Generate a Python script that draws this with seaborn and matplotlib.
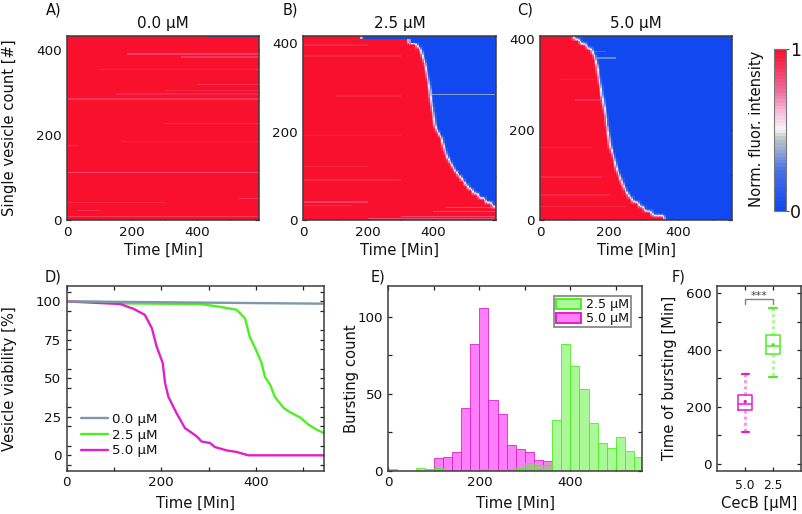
import numpy as np
import pandas as pd
import matplotlib
matplotlib.use("Agg")
import matplotlib.pyplot as plt
from matplotlib.colors import LinearSegmentedColormap
from matplotlib.patches import Patch
from matplotlib.lines import Line2D
import seaborn as sns

W, H = 803, 514
MU = "\u00b5M"

# ---------- heat map data: burst time [min] of each 10-vesicle block, bottom to top
burst_b = [700, 700, 700, 582, 560, 540, 522, 508, 496, 486, 475, 465, 457, 449, 442, 437,
           433, 429, 426, 418, 410, 405, 403, 401, 399, 397, 395, 393, 391, 390, 387, 385,
           382, 380, 377, 374, 370, 366, 361, 350, 325, 180]
burst_c = [360, 325, 302, 287, 268, 257, 249, 242, 237, 232, 227, 222, 218, 215, 211, 207,
           203, 201, 199, 197, 195, 193, 192, 190, 188, 185, 183, 180, 178, 176, 173, 171,
           169, 167, 164, 161, 157, 150, 135, 116, 97]
# pale streaks: row, first minute, last minute, level
streaks_a = [(390, 185, 590, .86), (383, 350, 590, .88), (353, 100, 590, .9), (318, 400, 590, .9),
             (305, 300, 590, .92), (296, 150, 590, .92), (284, 0, 590, .88), (226, 300, 590, .9),
             (184, 170, 590, .92), (111, 0, 590, .84), (50, 530, 590, .9), (40, 0, 300, .93),
             (22, 30, 100, .9), (8, 0, 590, .88), (431, 430, 590, .0), (174, 0, 30, .87)]
streaks_b = [(283, 390, 592, .34), (370, 0, 300, .92), (395, 0, 200, .92), (40, 0, 200, .87),
             (32, 0, 150, .9), (90, 0, 300, .93), (120, 0, 200, .93), (190, 0, 300, .92),
             (280, 100, 300, .93), (28, 440, 592, .82), (18, 400, 592, .82), (8, 300, 592, .84),
             (3, 200, 592, .82)]
streaks_c = [(358, 165, 220, .3), (372, 155, 190, .2), (265, 100, 180, .9), (160, 0, 150, .93),
             (95, 0, 180, .93), (55, 0, 200, .92), (30, 0, 250, .92), (310, 60, 170, .93)]

# ---------- panel D curves (minute, viability %)
t_gray = [0, 544]
v_gray = [100, 98.5]
t_green = [0, 70, 113, 282, 317, 359, 377, 387, 400, 412, 419, 430, 440, 458, 472, 493, 511, 528, 544]
v_green = [100, 99.6, 98.7, 98.3, 96.8, 94.6, 89, 77, 68.6, 60, 51, 46, 38, 31, 28, 24.7, 20, 16.7, 14.5]
t_mag = [0, 113, 141, 165, 180, 190, 203, 208, 215, 232, 250, 275, 285, 303, 313, 338, 359, 384, 544]
v_mag = [100, 98.3, 95.2, 91.3, 82.7, 70.8, 60, 47, 38, 27.5, 17.7, 12.3, 9, 8, 5.4, 3.2, 2.2, 0, 0]

# ---------- panel E histogram, 20-min bins
hist_edges = list(range(0, 561, 20))
count_25 = [1, 0, 0, 2, 1, 2, 0, 0, 0, 0, 1, 0, 0, 1, 2, 5, 4, 4, 33, 82, 68, 53, 31, 18, 15, 22, 13, 9]
count_50 = [0, 0, 0, 0, 0, 8, 9, 12, 41, 82, 106, 46, 37, 17, 14, 12, 7, 6, 0, 0, 0, 0, 0, 0, 0, 0, 0, 0]

# ---------- panel F box summary: min, q1, median, q3, max
box_cats = ["5.0", "2.5"]
box_50 = [110, 187, 210, 241, 316]
box_25 = [305, 387, 414, 453, 549]
box_means = [218, 418]

# ---------- styling
C_GRAY, C_GREEN, C_MAG = "#7f97a8", "#4cf020", "#e020c8"
SPINE = "#3c3c3c"
TICK_FS, LABEL_FS, TITLE_FS = 9.7, 10.6, 11
cmap = LinearSegmentedColormap.from_list(
    "fluor", [(0, "#1248f0"), (.25, "#4a72e6"), (.36, "#92a6d8"), (.44, "#b8c4c0"),
              (.5, "#f6f6f6"), (.6, "#f8c4e2"), (.75, "#ee6a9a"), (1, "#f8102c")], N=48)

sns.set_theme(style="ticks")
plt.rcParams["font.family"] = ["DejaVu Sans"]
plt.rcParams["text.color"] = "#111111"
plt.rcParams["axes.labelcolor"] = "#111111"
plt.rcParams["xtick.color"] = "#111111"
plt.rcParams["ytick.color"] = "#111111"
fig = plt.figure(figsize=(W / 100, H / 100), dpi=100)


def box(l, t, r, b):
    ax = fig.add_axes([l / W, 1 - b / H, (r - l) / W, (b - t) / H])
    ax._px = (l, r)
    return ax


def place_ylabel(ax, text, px):
    ax.set_ylabel(text, fontsize=LABEL_FS, va="center")
    l, r = ax._px
    ax.yaxis.set_label_coords((px - l) / (r - l), .5)


def style(ax, xmaj, xmin, ymaj, ymin, sx=1.0, sy=1.0):
    ax.set_xticks([v * sx for v in xmaj])
    ax.set_xticklabels([str(v) for v in xmaj])
    ax.set_xticks([v * sx for v in xmin], minor=True)
    ax.set_yticks([v * sy for v in ymaj])
    ax.set_yticklabels([str(v) for v in ymaj], rotation=0)
    ax.set_yticks([v * sy for v in ymin], minor=True)
    for which in ("major", "minor"):
        ax.tick_params(axis="both", which=which, direction="in", top=True, right=True, bottom=True,
                       left=True, length=3, width=.9, color="#222222", labelsize=TICK_FS, pad=4)
    for s in ax.spines.values():
        s.set_visible(True)
        s.set_color(SPINE)
        s.set_linewidth(1.1)


def matrix(burst, rows, xmax, streaks, sharp_from=None):
    t = np.arange(0, xmax + 5, 5) + 2.5
    m = np.full((rows, len(t)), .99)
    if burst is not None:
        for i, b in enumerate(burst):
            m[i * 10:i * 10 + 10] = np.clip((b - t) / 16 + .5, .01, .99)
        raw = m.copy()
        # the microscope stack is soft across rows: average neighbouring vesicles
        k = 11
        p = np.pad(m, ((k // 2, k // 2), (0, 0)), mode="edge")
        m = np.stack([np.convolve(p[:, j], np.ones(k) / k, mode="valid") for j in range(m.shape[1])], axis=1)
        if sharp_from is not None:
            m[sharp_from:] = raw[sharp_from:]
    for row, t0, t1, lev in streaks:
        mask = (t >= t0) & (t <= t1)
        for r in (row - 1, row, row + 1):
            if 0 <= r < rows:
                if burst is None:
                    m[r, mask] = lev
                elif lev < .6:
                    m[r, mask] = np.maximum(m[r, mask], lev)
                else:
                    m[r, mask] = np.minimum(m[r, mask], lev)
    return m


def heat(ax, m, xmax, rows, cax=None):
    sns.heatmap(m, ax=ax, cmap=cmap, vmin=0, vmax=1, xticklabels=False, yticklabels=False,
                cbar=cax is not None, cbar_ax=cax, rasterized=True)
    ax.set_xlim(0, xmax / 5)
    ax.set_ylim(0, rows)
    style(ax, [0, 200, 400], [100, 300, 500], [0, 200, 400], [100, 300], sx=1 / 5)
    ax.set_xlabel("Time [Min]", fontsize=LABEL_FS, labelpad=3)


# ---------- A, B, C
axA = box(67, 36, 259, 220)
axB = box(303.3, 36, 495.7, 220)
axC = box(540, 36, 732.3, 220)
cax = box(774, 48.7, 786, 210.7)

heat(axA, matrix(None, 433, 590, streaks_a), 590, 433, cax=cax)
heat(axB, matrix(burst_b, 416, 592, streaks_b, sharp_from=400), 592, 416)
heat(axC, matrix(burst_c, 407, 557, streaks_c), 557, 407)
place_ylabel(axA, "Single vesicle count [#]", 10)
for ax, title in zip((axA, axB, axC), ("0.0 ", "2.5 ", "5.0 ")):
    ax.set_title(title + MU, fontsize=TITLE_FS, pad=6)

cbar = axA.collections[0].colorbar
cbar.set_ticks([0, 1])
cbar.set_ticklabels(["0", "1"])
cbar.ax.tick_params(length=2, width=.8, labelsize=12.5, pad=1, color="#555555")
cbar.outline.set_edgecolor("#777777")
cbar.outline.set_linewidth(.8)
cbar.outline.set_visible(True)
fig.text(757 / W, 1 - 129 / H, "Norm. fluor. intensity", rotation=90, fontsize=LABEL_FS,
         ha="center", va="center")

# ---------- D
axD = box(66.7, 286, 324, 470.7)
sns.lineplot(x=t_green, y=v_green, ax=axD, color=C_GREEN, lw=1.7, estimator=None, sort=False)
sns.lineplot(x=t_mag, y=v_mag, ax=axD, color=C_MAG, lw=1.7, estimator=None, sort=False)
sns.lineplot(x=t_gray, y=v_gray, ax=axD, color=C_GRAY, lw=1.7, estimator=None, sort=False)
axD.set_xlim(0, 544)
axD.set_ylim(-10, 110)
style(axD, [0, 200, 400], [100, 300, 500], [0, 25, 50, 75, 100],
      [-6.25 + 6.25 * i * 2 for i in range(0, 10)])
axD.set_xlabel("Time [Min]", fontsize=LABEL_FS, labelpad=5)
place_ylabel(axD, "Vesicle viability [%]", 10)
axD.legend(handles=[Line2D([], [], color=c, lw=1.7, label=v + " " + MU)
                    for c, v in ((C_GRAY, "0.0"), (C_GREEN, "2.5"), (C_MAG, "5.0"))],
           loc="lower left", bbox_to_anchor=(.055, .072), frameon=False, fontsize=9.6,
           handlelength=2.0, handletextpad=.35, labelspacing=.2, borderpad=0, borderaxespad=0)

# ---------- E
axE = box(388.3, 286, 642.3, 470.7)
centers = [e + 10 for e in hist_edges[:-1]]
FILL_MAG, FILL_GREEN = (1, .47, .98, .95), (.35, .95, .2, .5)
sns.histplot(x=centers, weights=count_50, bins=hist_edges, ax=axE, color=C_MAG, edgecolor=C_MAG, lw=1.6)
n_mag = len(axE.patches)
sns.histplot(x=centers, weights=count_25, bins=hist_edges, ax=axE, color=C_GREEN, edgecolor=C_GREEN, lw=1.6)
for i, p in enumerate(axE.patches):
    p.set_alpha(None)
    p.set_facecolor(FILL_MAG if i < n_mag else FILL_GREEN)
    p.set_edgecolor(C_MAG if i < n_mag else C_GREEN)
axE.set_xlim(0, 558)
axE.set_ylim(0, 120)
style(axE, [0, 200, 400], [100, 300, 500], [0, 50, 100], [25, 75])
axE.set_xlabel("Time [Min]", fontsize=LABEL_FS, labelpad=5)
place_ylabel(axE, "Bursting count", 352)
leg = axE.legend(handles=[Patch(facecolor=FILL_GREEN, edgecolor=C_GREEN, lw=1.4, label="2.5 " + MU),
                          Patch(facecolor=FILL_MAG, edgecolor=C_MAG, lw=1.4, label="5.0 " + MU)],
                 loc="upper right", bbox_to_anchor=(.955, .945), fontsize=9.1, fancybox=False,
                 framealpha=1, edgecolor="#808080", handlelength=2.0, handleheight=.85,
                 labelspacing=.05, borderpad=.18, handletextpad=.35, borderaxespad=0)
leg.get_frame().set_linewidth(1.2)

# ---------- F
axF = box(717.3, 286, 801, 470.7)
df = pd.DataFrame({"cat": [box_cats[0]] * 5 + [box_cats[1]] * 5, "val": box_50 + box_25})
sns.boxplot(data=df, x="cat", y="val", hue="cat", order=box_cats, hue_order=box_cats, ax=axF,
            palette=[C_MAG, C_GREEN], fill=False, whis=(0, 100), width=.5, dodge=False, legend=False,
            linewidth=1.1, showfliers=False,
            whiskerprops=dict(linestyle=(0, (1, 1)), linewidth=2.2, alpha=.45),
            capprops=dict(linewidth=1.6), capwidths=.26)
sns.scatterplot(x=box_cats, y=box_means, hue=box_cats, palette=[C_MAG, C_GREEN], ax=axF, s=6,
                legend=False, linewidth=0, zorder=5)
axF.set_xlim(-1, 2)
axF.set_ylim(-25, 625)
axF.set_xticks([0, 1])
axF.set_xticklabels(box_cats)
axF.set_yticks([0, 200, 400, 600])
axF.set_yticklabels(["0", "200", "400", "600"])
axF.set_yticks([100, 300, 500], minor=True)
for which in ("major", "minor"):
    axF.tick_params(axis="both", which=which, direction="in", top=True, right=True, bottom=True,
                    left=True, length=3, width=.9, color="#222222", labelsize=TICK_FS, pad=4)
axF.tick_params(axis="x", labelsize=8.8, pad=6)
for s in axF.spines.values():
    s.set_visible(True)
    s.set_color(SPINE)
    s.set_linewidth(1.1)
axF.set_xlabel("CecB [" + MU + "]", fontsize=LABEL_FS, labelpad=3)
place_ylabel(axF, "Time of bursting [Min]", 670)
axF.plot([0, 0, 1, 1], [563, 579, 579, 563], color="#808080", lw=1)
axF.text(.5, 573, "***", ha="center", va="bottom", fontsize=8, color="#444444", linespacing=1)

# ---------- panel letters
for s, x, y in (("A)", 46, 10), ("B)", 283, 10), ("C)", 517, 10),
                ("D)", 45, 277), ("E)", 371, 277), ("F)", 672, 277)):
    fig.text(x / W, 1 - y / H, s, fontsize=10.5, ha="left", va="center")

fig.savefig("out.png", dpi=100)
